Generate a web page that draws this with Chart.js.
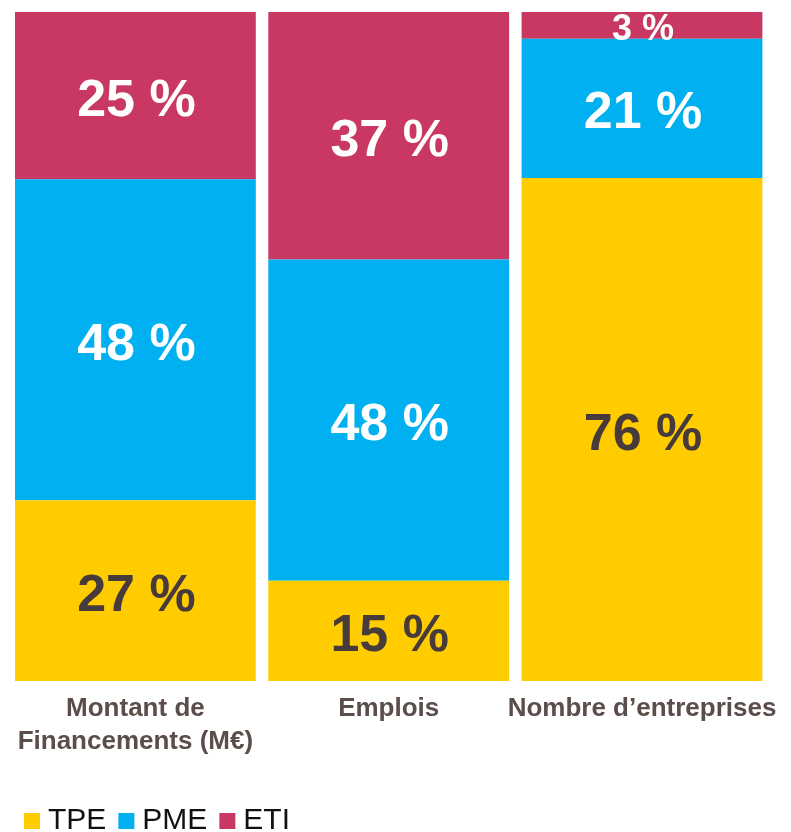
<!DOCTYPE html>
<html><head><meta charset="utf-8">
<script src="https://cdn.jsdelivr.net/npm/chart.js@4.4.0/dist/chart.umd.min.js"></script>
<style>html,body{margin:0;padding:0;background:#fff}#wrap{width:791px;height:832px}</style>
</head><body><div id="wrap"><canvas id="c" width="791" height="832"></canvas></div>
<script>
const categories = [['Montant de', 'Financements (M€)'], 'Emplois', 'Nombre d’entreprises'];
const seriesNames = ['TPE', 'PME', 'ETI'];
// segment heights
const tpeValues = [27, 15, 75.2];
const pmeValues = [48, 48, 20.8];
const etiValues = [25, 37, 4.0];
// percentages as printed on the segments
const tpeLabels = ['27 %', '15 %', '76 %'];
const pmeLabels = ['48 %', '48 %', '21 %'];
const etiLabels = ['25 %', '37 %', '3 %'];
const seriesColors = ['#FFCC00', '#00B0F0', '#C83862'];
const valueLabelColors = ['#463A3A', '#FFFFFF', '#FFFFFF'];

const FONT = '"Liberation Sans", Arial, sans-serif';
const printedLabels = [tpeLabels, pmeLabels, etiLabels];

const valueLabels = {
  id: 'valueLabels',
  afterDatasetsDraw(chart) {
    const ctx = chart.ctx;
    const a = chart.chartArea;
    ctx.save();
    ctx.beginPath();
    ctx.rect(a.left, a.top, a.right - a.left, a.bottom - a.top);
    ctx.clip();
    chart.data.datasets.forEach((ds, di) => {
      const meta = chart.getDatasetMeta(di);
      meta.data.forEach((el, i) => {
        const v = ds.data[i];
        const size = v < 5 ? 36 : 52;
        const cy = (el.y + el.base) / 2;
        ctx.font = 'bold ' + size + 'px ' + FONT;
        ctx.fillStyle = valueLabelColors[di];
        ctx.textAlign = 'center';
        ctx.textBaseline = 'alphabetic';
        ctx.fillText(printedLabels[di][i], el.x + 1, cy + 0.358 * size + 1.5);
      });
    });
    ctx.restore();
  }
};

const customLegend = {
  id: 'customLegend',
  afterDraw(chart) {
    const ctx = chart.ctx;
    ctx.save();
    ctx.font = '30px ' + FONT;
    ctx.textBaseline = 'alphabetic';
    ctx.textAlign = 'left';
    let x = 24;
    const baseline = 829;
    chart.data.datasets.forEach((ds) => {
      ctx.fillStyle = ds.backgroundColor;
      ctx.fillRect(x, baseline - 16, 16, 16);
      x += 24;
      ctx.fillStyle = '#111111';
      ctx.fillText(ds.label, x, baseline);
      x += ctx.measureText(ds.label).width + 12;
    });
    ctx.restore();
  }
};

const seriesValues = [tpeValues, pmeValues, etiValues];

new Chart(document.getElementById('c'), {
  type: 'bar',
  data: {
    labels: categories,
    datasets: seriesNames.map((n, i) => ({
      label: n,
      data: seriesValues[i],
      backgroundColor: seriesColors[i],
      borderWidth: 0,
      categoryPercentage: 1,
      barPercentage: 0.9507
    }))
  },
  options: {
    responsive: false,
    animation: false,
    devicePixelRatio: 1,
    layout: { padding: { left: 8.75, right: 21.75, top: 12, bottom: 0 } },
    plugins: { legend: { display: false }, tooltip: { enabled: false } },
    scales: {
      x: {
        stacked: true,
        grid: { display: false, drawTicks: false },
        border: { display: false },
        ticks: {
          color: '#5A4D4A',
          padding: 11,
          maxRotation: 0,
          autoSkip: false,
          font: { family: FONT, size: 26, weight: 'bold', lineHeight: 1.27 }
        },
        afterFit(scale) { scale.height = 151; }
      },
      y: {
        stacked: true,
        display: false,
        min: 0,
        max: 100
      }
    }
  },
  plugins: [valueLabels, customLegend]
});
</script>
</body></html>
